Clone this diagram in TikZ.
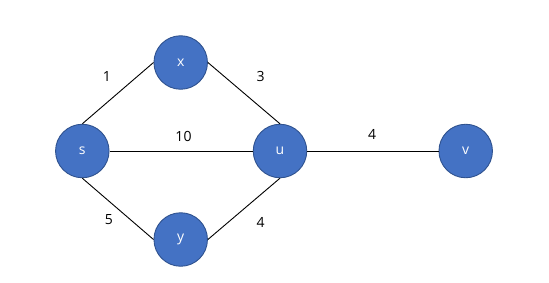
\documentclass[tikz,border=0pt]{standalone}
\usepackage{fontspec}
\setmainfont{Open Sans}
\definecolor{nodefill}{HTML}{4472C4}
\definecolor{nodeedge}{HTML}{2F528F}
\begin{document}
\begin{tikzpicture}[x=1pt,y=-1pt,
  vtx/.style={circle,fill=nodefill,draw=nodeedge,line width=0.9pt,minimum size=53.5pt,inner sep=0pt,text=white,font=\fontsize{14}{16}\selectfont},
  edge/.style={draw=black,line width=0.9pt},
  wlabel/.style={font=\fontsize{14}{16}\selectfont,text=black,inner sep=0pt}]
\useasboundingbox (0,0) rectangle (549,282);
\node[vtx] (s) at (82.3,151) {s};
\node[vtx] (x) at (180.7,62.5) {x};
\node[vtx] (u) at (280,151) {u};
\node[vtx] (y) at (180.7,239.5) {y};
\node[vtx] (v) at (465.7,151) {v};
\draw[edge] (s.north) -- (x.west);
\draw[edge] (x.east) -- (u.north);
\draw[edge] (s.east) -- (u.west);
\draw[edge] (s.south) -- (y.west);
\draw[edge] (y.east) -- (u.south);
\draw[edge] (u.east) -- (v.west);
\node[wlabel] (l1) at (107,76.5) {1};
\node[wlabel] (l3) at (260.7,76.5) {3};
\node[wlabel] (l10) at (183.5,136.5) {10};
\node[wlabel] (l5) at (109,219.5) {5};
\node[wlabel] (l4a) at (260.7,222) {4};
\node[wlabel] (l4b) at (372,134) {4};
\end{tikzpicture}
\end{document}
